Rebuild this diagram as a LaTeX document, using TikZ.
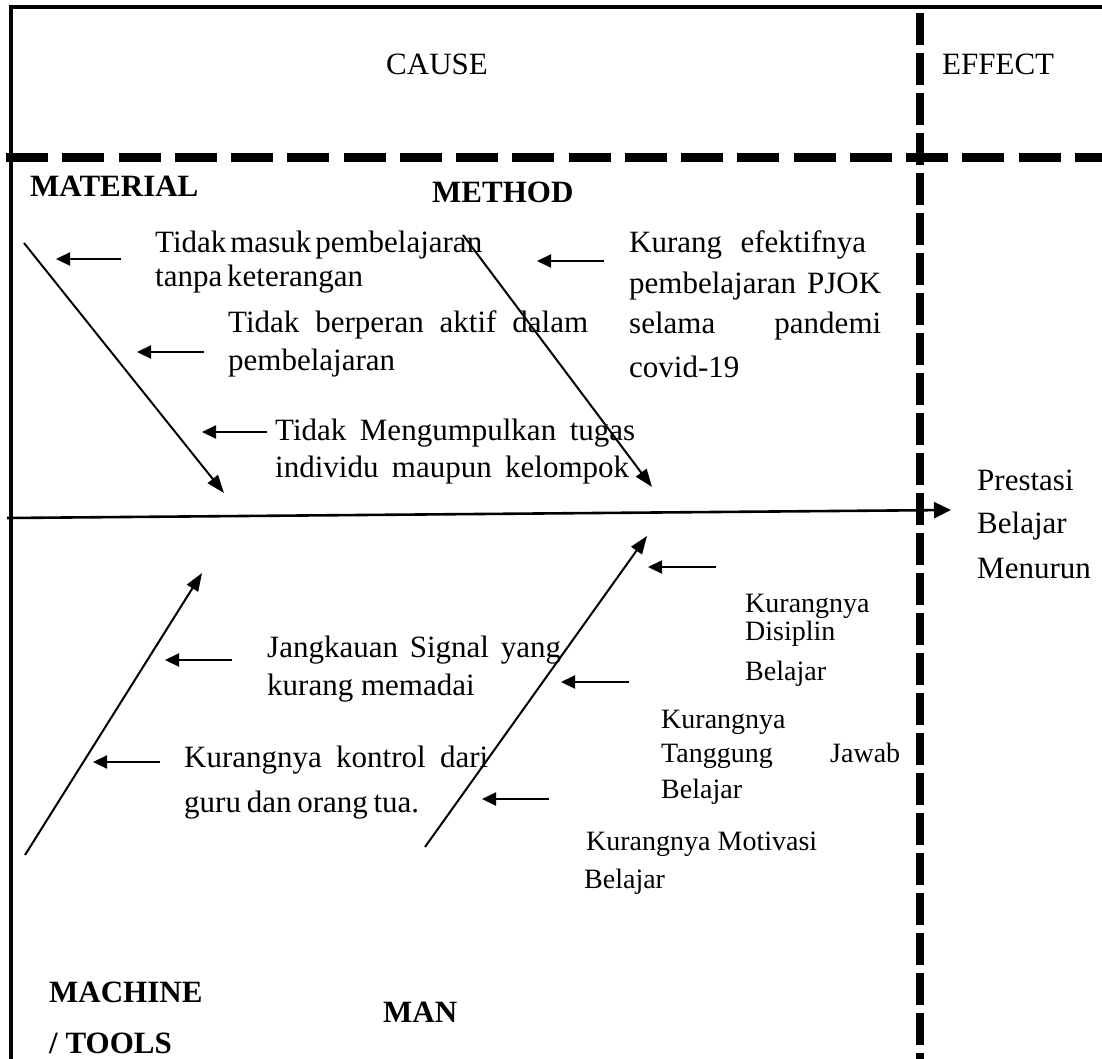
\documentclass[tikz,border=0pt]{standalone}
\usepackage{fontspec}
\setmainfont{Liberation Serif}
\usetikzlibrary{arrows.meta}
\newcommand\fitline[2]{\hbox to #1pt{\spaceskip=0pt plus 1fil minus 1fil\relax #2}}
\tikzset{
  txt/.style={anchor=base west, inner sep=0pt, font=\fontsize{31}{37}\selectfont},
  mtxt/.style={anchor=base west, inner sep=0pt, font=\fontsize{28}{33}\selectfont},
  btxt/.style={anchor=base west, inner sep=0pt, font=\fontsize{31}{37}\selectfont\bfseries},
  bone/.style={line width=2pt, -{Triangle[length=18pt,width=13pt]}},
  causearrow/.style={line width=2.2pt, -{Triangle[length=14pt,width=13pt]}},
  spine/.style={line width=2.6pt, -{Triangle[length=17pt,width=16pt]}},
  framel/.style={line width=4.5pt, line join=miter},
  hdash/.style={line width=9pt, dash pattern=on 42pt off 14.25pt},
  vdash/.style={line width=8.5pt, dash pattern=on 32pt off 8pt}
}
\begin{document}
\begin{tikzpicture}[x=1pt,y=-1pt]
\useasboundingbox (0,0) rectangle (1102,1059);
\fill[white] (0,0) rectangle (1102,1059);
% frame
\coordinate (fTR) at (1102,7);
\coordinate (fTL) at (11,7);
\coordinate (fBL) at (11,1059);
\draw[framel] (fTR) -- (fTL) -- (fBL);
% dashed separators
\coordinate (hL) at (6,157.5);
\coordinate (hR) at (1102,157.5);
\draw[hdash] (hL) -- (hR);
\coordinate (vT) at (920,13);
\coordinate (vB) at (920,1059);
\draw[vdash] (vT) -- (vB);
% headings
\node[txt] (cause) at (386,75) {CAUSE};
\node[txt] (effect) at (942,75) {EFFECT};
\node[btxt] (material) at (30,197) {MATERIAL};
\node[btxt] (method) at (432,203) {METHOD};
\node[btxt] (machine) at (49,1002) {MACHINE};
\node[btxt] (tools) at (49,1053) {/ TOOLS};
\node[btxt] (man) at (383,1022) {MAN};
% spine
\coordinate (spS) at (7,518);
\coordinate (spE) at (951,510);
\draw[spine] (spS) -- (spE);
% bones
\coordinate (matS) at (24,243);
\coordinate (matE) at (224,493);
\coordinate (metS) at (463,235);
\coordinate (metE) at (652,487);
\coordinate (macS) at (25,855);
\coordinate (macE) at (202,573);
\coordinate (manS) at (425,847);
\coordinate (manE) at (647,536);
\draw[bone] (matS) -- (matE);
\draw[bone] (metS) -- (metE);
\draw[bone] (macS) -- (macE);
\draw[bone] (manS) -- (manE);
% cause arrows
\coordinate (a1s) at (121,259); \coordinate (a1e) at (56,259);
\coordinate (a2s) at (203.5,352); \coordinate (a2e) at (137,352);
\coordinate (a3s) at (267,432); \coordinate (a3e) at (202,432);
\coordinate (a4s) at (604,261); \coordinate (a4e) at (537,261);
\coordinate (a5s) at (232,660); \coordinate (a5e) at (165,660);
\coordinate (a6s) at (160,762); \coordinate (a6e) at (93,762);
\coordinate (a7s) at (716,567); \coordinate (a7e) at (648,567);
\coordinate (a8s) at (629,682); \coordinate (a8e) at (561,682);
\coordinate (a9s) at (549,799); \coordinate (a9e) at (482,799);
\foreach \i in {1,...,9} {\draw[causearrow] (a\i s) -- (a\i e);}
% material causes
\node[txt] (t1a) at (155,253) {\fitline{327}{Tidak masuk pembelajaran}};
\node[txt] (t1b) at (155,287) {\fitline{208}{tanpa keterangan}};
\node[txt] (t2a) at (228,332) {\fitline{360}{Tidak berperan aktif dalam}};
\node[txt] (t2b) at (228,370) {pembelajaran};
\node[txt] (t3a) at (275,440) {\fitline{360}{Tidak Mengumpulkan tugas}};
\node[txt] (t3b) at (275,477) {\fitline{354}{individu maupun kelompok}};
% method cause
\node[txt] (t4a) at (629,253) {\fitline{237}{Kurang efektifnya}};
\node[txt] (t4b) at (629,293) {\fitline{252}{pembelajaran PJOK}};
\node[txt] (t4c) at (629,333) {\fitline{252}{selama pandemi}};
\node[txt] (t4d) at (629,377) {covid-19};
% effect
\node[txt] (e1) at (977,490) {Prestasi};
\node[txt] (e2) at (977,533) {Belajar};
\node[txt] (e3) at (977,578) {Menurun};
% machine causes
\node[txt] (t5a) at (267,657) {\fitline{294}{Jangkauan Signal yang}};
\node[txt] (t5b) at (267,695) {kurang memadai};
\node[txt] (t6a) at (184,767) {\fitline{304}{Kurangnya kontrol dari}};
\node[txt] (t6b) at (184,812) {\fitline{235}{guru dan orang tua.}};
% man causes
\node[mtxt] (t7a) at (745,612) {Kurangnya};
\node[mtxt] (t7b) at (745,640) {Disiplin};
\node[mtxt] (t7c) at (745,680) {Belajar};
\node[mtxt] (t8a) at (661,728) {Kurangnya};
\node[mtxt] (t8b) at (661,762) {\fitline{239}{Tanggung Jawab}};
\node[mtxt] (t8c) at (661,798) {Belajar};
\node[mtxt] (t9a) at (586,850) {Kurangnya Motivasi};
\node[mtxt] (t9b) at (584,888) {Belajar};
\end{tikzpicture}
\end{document}
